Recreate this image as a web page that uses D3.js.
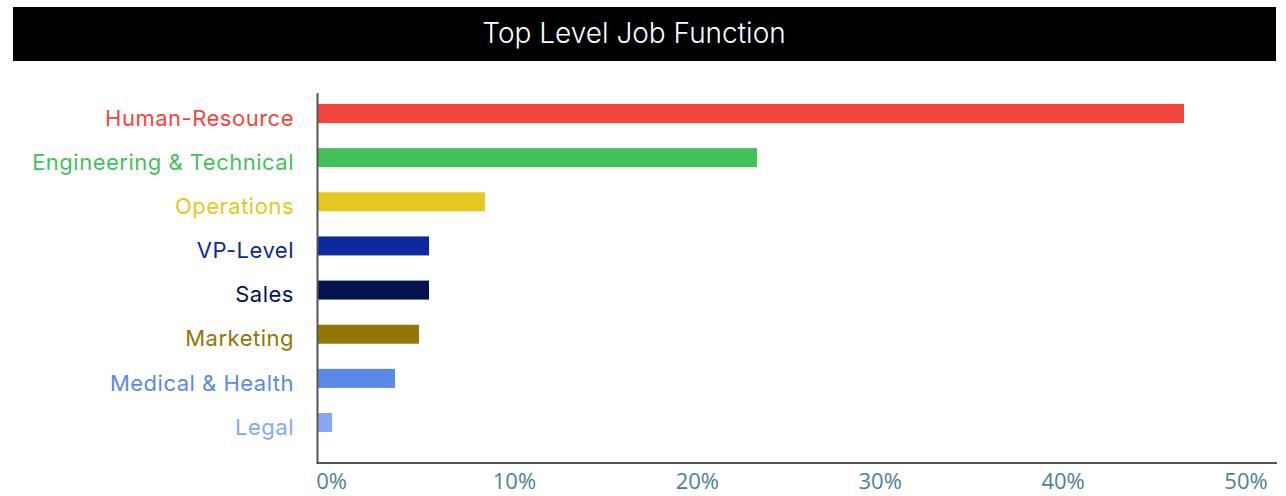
<!DOCTYPE html>
<html>
<head>
<meta charset="utf-8">
<script src="https://cdn.jsdelivr.net/npm/d3@7"></script>
<style>
  body { margin: 0; background: #fff; }
  .cat { font-family: "Inter", sans-serif; font-size: 22px; letter-spacing: 0.5px; }
  .tick text { font-family: "Open Sans", sans-serif; font-size: 22px; fill: #4d8296; }
</style>
</head>
<body>
<svg id="chart" width="1286" height="496"></svg>
<script>
const categories = ["Human-Resource", "Engineering & Technical", "Operations", "VP-Level",
  "Sales", "Marketing", "Medical & Health", "Legal"]
const shares = [0.4735, 0.240, 0.0913, 0.0607, 0.0607, 0.0552, 0.0421, 0.0077]
const colours = ["#f4453b", "#45bf5a", "#e6c821", "#0b2a9e", "#02134d", "#937605", "#5b89e8", "#86a8f6"]
const tickValues = [0, 0.1, 0.2, 0.3, 0.4, 0.5]

const svg = d3.select("#chart")
const margin = { left: 318, right: 9, top: 93, bottom: 33 }
const width = 1286 - margin.left - margin.right
const height = 496 - margin.top - margin.bottom

// title banner
svg.append("rect")
  .attr("x", 13).attr("y", 7)
  .attr("width", 1263).attr("height", 54)
  .attr("fill", "#000")
svg.append("text")
  .attr("x", 634).attr("y", 43)
  .attr("text-anchor", "middle")
  .attr("fill", "#fff")
  .style("font-family", "Inter, sans-serif")
  .style("font-weight", 300)
  .style("font-size", "28px")
  .text("Top Level Job Function")

const focus = svg.append("g")
  .attr("transform", "translate(" + margin.left + "," + margin.top + ")")

const x = d3.scaleLinear()
  .domain([0, 0.5])
  .range([0, 914.5])

const y = d3.scaleBand()
  .domain(categories)
  .range([-1.6, 351.6])
  .paddingInner(0.57)
  .paddingOuter(0.285)

focus.selectAll(".bar")
  .data(categories)
  .join("rect")
  .attr("class", "bar")
  .attr("x", 0)
  .attr("y", d => y(d))
  .attr("width", (d, i) => x(shares[i]))
  .attr("height", y.bandwidth())
  .attr("fill", (d, i) => colours[i])

// category labels
focus.selectAll(".cat")
  .data(categories)
  .join("text")
  .attr("class", "cat")
  .attr("x", -24)
  .attr("y", d => y(d) + y.bandwidth() / 2 + 4.5)
  .attr("dy", "0.35em")
  .attr("text-anchor", "end")
  .attr("fill", (d, i) => colours[i])
  .text(d => d)

// x axis
const xAxis = focus.append("g")
  .attr("class", "axis axis--x")
  .attr("transform", "translate(0," + height + ")")
  .call(d3.axisBottom(x).tickValues(tickValues).tickFormat(d3.format(".0%")).tickSize(0).tickPadding(10))
xAxis.select(".domain").remove()
xAxis.selectAll(".tick text").attr("dx", 13)

// axis lines
focus.append("line")
  .attr("x1", -0.5).attr("x2", -0.5)
  .attr("y1", 0).attr("y2", height)
  .attr("stroke", "#555").attr("stroke-width", 2)
focus.append("line")
  .attr("x1", -1.5).attr("x2", width)
  .attr("y1", height).attr("y2", height)
  .attr("stroke", "#555").attr("stroke-width", 2)
</script>
</body>
</html>
